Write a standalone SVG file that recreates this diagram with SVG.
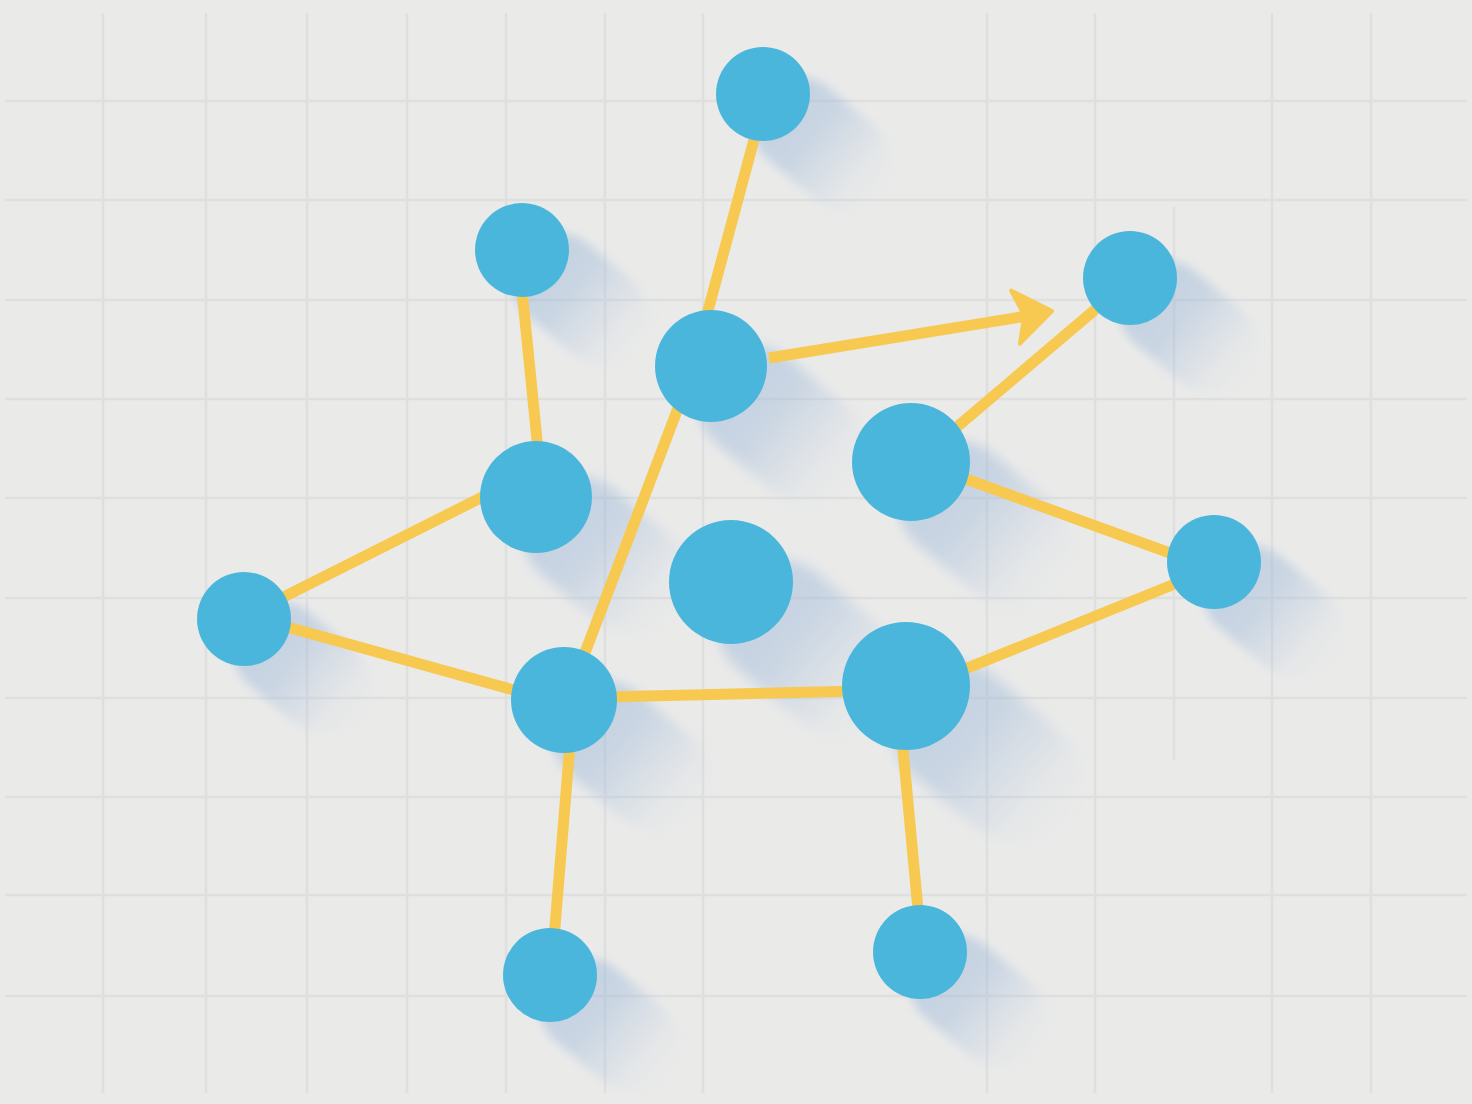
<svg xmlns="http://www.w3.org/2000/svg" xmlns:xlink="http://www.w3.org/1999/xlink" width="1472" height="1104" viewBox="0 0 1472 1104">
  <style>
    .grid line { stroke: #dfdfdf; stroke-width: 2.5; }
    .edge { stroke: #f7c950; stroke-width: 11; stroke-linecap: butt; fill: none; }
    .arrowhead { fill: #f7c950; stroke: #f7c950; stroke-width: 4; stroke-linejoin: round; }
    .node { fill: #4bb6dc; }
  </style>
  <defs>
    <linearGradient id="shg" x1="0" y1="0" x2="1" y2="0">
      <stop offset="0" stop-color="#8fb0d8" stop-opacity="0.45"/>
      <stop offset="0.4" stop-color="#8fb0d8" stop-opacity="0.36"/>
      <stop offset="0.8" stop-color="#8fb0d8" stop-opacity="0.06"/>
      <stop offset="1" stop-color="#8fb0d8" stop-opacity="0"/>
    </linearGradient>
    <filter id="shb" x="-20%" y="-40%" width="140%" height="180%">
      <feGaussianBlur stdDeviation="0.1"/>
    </filter>
    <rect id="sh" x="0" y="-1" width="3.3" height="2" rx="1" fill="url(#shg)" filter="url(#shb)"/>
  </defs>

  <rect width="1472" height="1104" fill="#eaeae9"/>

  <g class="grid">
    <line x1="103" y1="13" x2="103" y2="1093"/>
    <line x1="206" y1="13" x2="206" y2="1093"/>
    <line x1="307" y1="13" x2="307" y2="1093"/>
    <line x1="407" y1="13" x2="407" y2="1093"/>
    <line x1="506" y1="13" x2="506" y2="1093"/>
    <line x1="605" y1="13" x2="605" y2="1093"/>
    <line x1="703" y1="13" x2="703" y2="1093"/>
    <line x1="987" y1="13" x2="987" y2="1093"/>
    <line x1="1095" y1="13" x2="1095" y2="1093"/>
    <line x1="1174" y1="207" x2="1174" y2="760"/>
    <line x1="1272" y1="13" x2="1272" y2="1093"/>
    <line x1="1371" y1="13" x2="1371" y2="1093"/>
    <line x1="5" y1="101" x2="1467" y2="101"/>
    <line x1="5" y1="200" x2="1467" y2="200"/>
    <line x1="5" y1="300" x2="1467" y2="300"/>
    <line x1="5" y1="399" x2="1467" y2="399"/>
    <line x1="5" y1="498" x2="1467" y2="498"/>
    <line x1="5" y1="598" x2="1467" y2="598"/>
    <line x1="5" y1="698" x2="1467" y2="698"/>
    <line x1="5" y1="797" x2="1467" y2="797"/>
    <line x1="5" y1="895" x2="1467" y2="895"/>
    <line x1="5" y1="996" x2="1467" y2="996"/>
  </g>

  <g id="shadows">
    <use xlink:href="#sh" href="#sh" transform="translate(763,94) rotate(40) scale(47)"/>
    <use xlink:href="#sh" href="#sh" transform="translate(522,250) rotate(40) scale(47)"/>
    <use xlink:href="#sh" href="#sh" transform="translate(711,366) rotate(40) scale(56)"/>
    <use xlink:href="#sh" href="#sh" transform="translate(1130,278) rotate(40) scale(47)"/>
    <use xlink:href="#sh" href="#sh" transform="translate(911,462) rotate(40) scale(59)"/>
    <use xlink:href="#sh" href="#sh" transform="translate(536,497) rotate(40) scale(56)"/>
    <use xlink:href="#sh" href="#sh" transform="translate(731,582) rotate(40) scale(62)"/>
    <use xlink:href="#sh" href="#sh" transform="translate(244,619) rotate(40) scale(47)"/>
    <use xlink:href="#sh" href="#sh" transform="translate(1214,562) rotate(40) scale(47)"/>
    <use xlink:href="#sh" href="#sh" transform="translate(564,700) rotate(40) scale(53)"/>
    <use xlink:href="#sh" href="#sh" transform="translate(906,686) rotate(40) scale(64)"/>
    <use xlink:href="#sh" href="#sh" transform="translate(550,975) rotate(40) scale(47)"/>
    <use xlink:href="#sh" href="#sh" transform="translate(920,952) rotate(40) scale(47)"/>
  </g>

  <g id="connectors">
    <line class="edge" x1="762" y1="110" x2="702" y2="333"/>
    <line class="edge" x1="518" y1="250" x2="540" y2="470"/>
    <line class="edge" x1="769" y1="358" x2="1027" y2="316"/>
    <path class="arrowhead" d="M1052,311 L1011.1,290.5 L1024.4,315.6 L1019.9,343.7 Z"/>
    <line class="edge" x1="1130" y1="280" x2="911" y2="466"/>
    <line class="edge" x1="911" y1="459" x2="1214" y2="569"/>
    <line class="edge" x1="1214" y1="568" x2="906" y2="693"/>
    <line class="edge" x1="564" y1="698" x2="906" y2="690"/>
    <line class="edge" x1="694" y1="366" x2="567" y2="700"/>
    <line class="edge" x1="536" y1="470" x2="244" y2="617"/>
    <line class="edge" x1="244" y1="615" x2="564" y2="704"/>
    <line class="edge" x1="572" y1="720" x2="551" y2="975"/>
    <line class="edge" x1="897" y1="686" x2="922" y2="952"/>
  </g>

  <g id="n1"><circle class="node" cx="763" cy="94" r="47"/></g>
  <g id="n2"><circle class="node" cx="522" cy="250" r="47"/></g>
  <g id="n3"><circle class="node" cx="711" cy="366" r="56"/></g>
  <g id="n4"><circle class="node" cx="1130" cy="278" r="47"/></g>
  <g id="n5"><circle class="node" cx="911" cy="462" r="59"/></g>
  <g id="n6"><circle class="node" cx="536" cy="497" r="56"/></g>
  <g id="n7"><circle class="node" cx="731" cy="582" r="62"/></g>
  <g id="n8"><circle class="node" cx="244" cy="619" r="47"/></g>
  <g id="n9"><circle class="node" cx="1214" cy="562" r="47"/></g>
  <g id="n10"><circle class="node" cx="564" cy="700" r="53"/></g>
  <g id="n11"><circle class="node" cx="906" cy="686" r="64"/></g>
  <g id="n12"><circle class="node" cx="550" cy="975" r="47"/></g>
  <g id="n13"><circle class="node" cx="920" cy="952" r="47"/></g>
</svg>
